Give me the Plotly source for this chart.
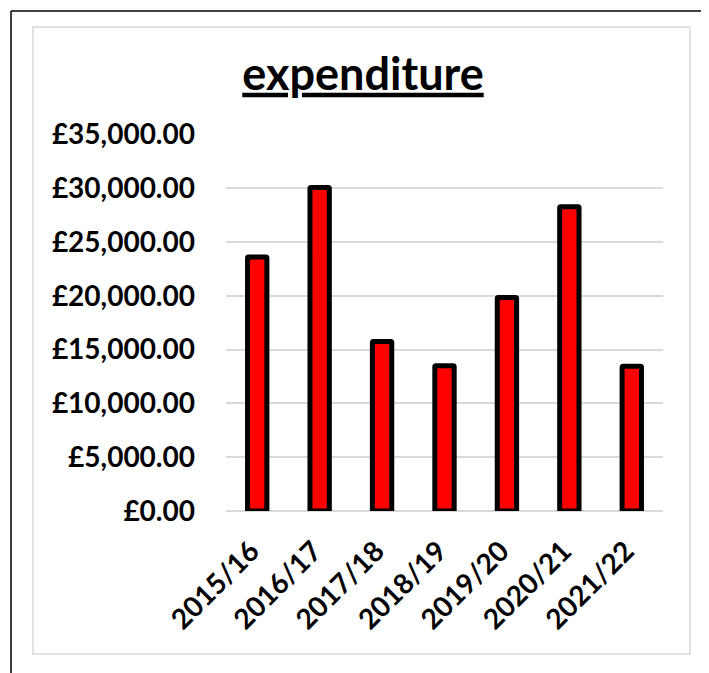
import plotly.graph_objects as go

# ---- data ----
years = ["2015/16", "2016/17", "2017/18", "2018/19", "2019/20", "2020/21", "2021/22"]
expenditure = [23600, 30070, 15750, 13500, 19850, 28270, 13450]
y_ticks = [0, 5000, 10000, 15000, 20000, 25000, 30000, 35000]
y_tick_labels = ["£" + format(v, ",.2f") for v in y_ticks]
title_text = "expenditure"

W, H = 709, 673
OFF = 8  # page body margin in the browser
# plot area in window pixels
PX0, PX1 = 226, 663
PY0, PY1 = 134.4, 511  # top, bottom


def fx(px):
    return (px - OFF) / W


def fy(py):
    return (H - (py - OFF)) / H


FONT = "Lato, 'Open Sans', sans-serif"

fig = go.Figure()
fig.add_trace(go.Bar(
    x=years,
    y=expenditure,
    width=0.31,
    marker=dict(color="#FF0000", line=dict(color="#000000", width=5), cornerradius=1),
    hoverinfo="x+y",
))

fig.update_layout(
    width=W,
    height=H,
    margin=dict(l=0, r=0, t=0, b=0, autoexpand=False),
    paper_bgcolor="white",
    plot_bgcolor="white",
    showlegend=False,
    font=dict(family=FONT, color="#000000"),
    title=dict(
        text="<b><u>" + title_text + "</u></b>",
        x=fx(363), xanchor="center", xref="paper",
        y=fy(74), yanchor="middle", yref="paper",
        font=dict(family=FONT, size=45, color="#000000"),
        automargin=False,
    ),
    xaxis=dict(
        domain=[fx(PX0), fx(PX1)],
        tickangle=-45,
        tickfont=dict(family=FONT, size=28, color="#000000", weight="bold"),
        showgrid=False,
        showline=False,
        ticks="",
        ticklabelstandoff=17,
        ticklabelshift=-6,
        automargin=False,
        fixedrange=True,
    ),
    yaxis=dict(
        domain=[fy(PY1), fy(PY0)],
        range=[0, 35000],
        tickmode="array",
        tickvals=y_ticks,
        ticktext=y_tick_labels,
        tickfont=dict(family=FONT, size=28, color="#000000", weight="bold"),
        showgrid=True,
        gridcolor="#D9D9D9",
        gridwidth=1.5,
        zeroline=True,
        zerolinecolor="#D9D9D9",
        zerolinewidth=1.5,
        showline=False,
        ticks="",
        ticklabelstandoff=30,
        automargin=False,
        fixedrange=True,
    ),
    shapes=[
        # chart area frame (light gray)
        dict(type="rect", xref="paper", yref="paper",
             x0=fx(33), x1=fx(690), y0=fy(654), y1=fy(27),
             line=dict(color="#D9D9D9", width=1.5), fillcolor="rgba(0,0,0,0)", layer="below"),
        # outer black frame (left, top, right)
        dict(type="line", xref="paper", yref="paper",
             x0=fx(11), x1=fx(11), y0=fy(680), y1=fy(11),
             line=dict(color="#000000", width=1.5)),
        dict(type="line", xref="paper", yref="paper",
             x0=fx(11), x1=fx(706), y0=fy(11), y1=fy(11),
             line=dict(color="#000000", width=1.5)),
        dict(type="line", xref="paper", yref="paper",
             x0=fx(706), x1=fx(706), y0=fy(680), y1=fy(11),
             line=dict(color="#000000", width=1.5)),
    ],
)

fig.write_html("out.html")
